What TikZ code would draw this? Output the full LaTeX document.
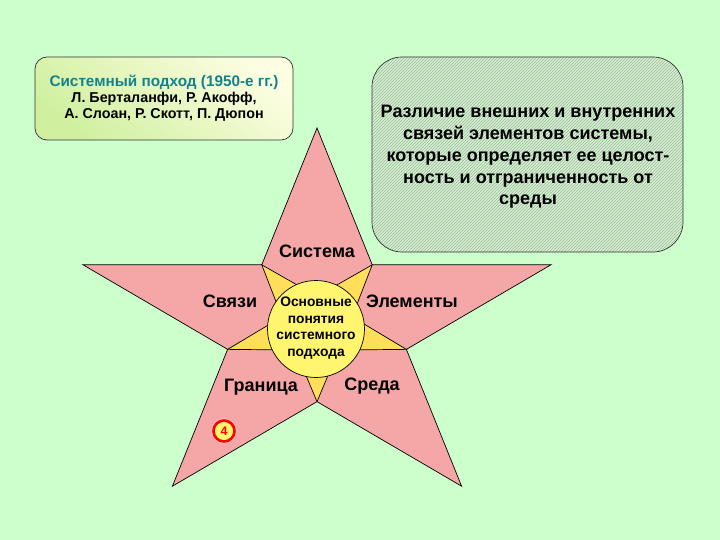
\documentclass[tikz,border=0pt]{standalone}
\usepackage{fontspec}
\setmainfont{Liberation Sans}
\usetikzlibrary{patterns}
\definecolor{bgGreen}{RGB}{204,255,204}
\definecolor{starPink}{RGB}{245,166,166}
\definecolor{rayYellow}{RGB}{255,222,90}
\definecolor{coreYellow}{RGB}{255,245,110}
\definecolor{headTeal}{RGB}{20,130,140}
\definecolor{boxCream}{RGB}{252,253,225}
\definecolor{boxLime}{RGB}{208,240,160}
\definecolor{hatchFill}{RGB}{212,242,206}
\definecolor{hatchLine}{RGB}{160,182,160}
\newcommand{\armLabelSty}{\fontsize{18}{20}\selectfont\bfseries}
\newcommand{\noteTextSty}{\fontsize{18}{21.7}\selectfont\bfseries}
\newcommand{\coreTextSty}{\fontsize{13.8}{16.6}\selectfont\bfseries}
\newcommand{\authorsSty}{\fontsize{14.3}{16}\selectfont\bfseries}

\begin{document}
\begin{tikzpicture}[x=1pt, y=-1pt,
        starline/.style={draw=black, line width=0.7pt},
        armlabel/.style={inner sep=0pt, font=\armLabelSty},
        badge/.style={circle, draw=red, line width=2.6pt, fill=coreYellow, text=red,
            inner sep=0pt, minimum size=21pt, font=\fontsize{12.5}{13}\selectfont\bfseries,
            preaction={draw=red!30, line width=5.5pt}}]

    % background
    \fill[bgGreen] (0,0) rectangle (720,540);
    \useasboundingbox (0,0) rectangle (720,540);

    % approach box
    \node[draw=black!80, line width=0.7pt, rounded corners=12pt,
        top color=boxCream, bottom color=boxLime, shading angle=-40,
        minimum width=258pt, minimum height=83pt, align=center, font=\authorsSty]
        (approach) at (164,98.5)
        {{\fontsize{15.3}{16}\selectfont\color{headTeal}Системный подход (1950-е гг.)}\\
         Л. Берталанфи, Р. Акофф,\\
         А. Слоан, Р. Скотт, П. Дюпон};

    % note box
    \node[draw=black!80, line width=0.7pt, rounded corners=30pt,
        preaction={fill=hatchFill}, pattern=north east lines, pattern color=hatchLine,
        minimum width=311pt, minimum height=195pt] (notebox) at (527.5,154.5) {};
    \node[align=center, font=\noteTextSty, inner sep=0pt] (notetext) at (528,157)
        {Различие внешних и внутренних\\
         связей элементов системы,\\
         которые определяет ее целост-\\
         ность и отграниченность от\\
         среды};

    % star
    \begin{scope}[shift={(317,326)}, x=246pt, y=198pt]
        \draw[starline, fill=starPink] (90:1)
            \foreach \a in {126,198,270,342,54} { -- (\a:0.382) -- (\a+36:1) } -- cycle;
        % rays
        \draw[starline, fill=rayYellow] (90:0.15)
            \foreach \a in {126,198,270,342,54} { -- (\a:0.382) -- (\a+36:0.15) } -- cycle;
    \end{scope}

    % core
    \node[circle, starline, fill=coreYellow, minimum size=97pt, inner sep=0pt] (core) at (316,329) {};
    \node[align=center, font=\coreTextSty, inner sep=0pt] (coretext) at (316,328)
        {Основные\\ понятия\\ системного\\ подхода};

    % arm labels
    \node[armlabel] (sistema) at (317,251) {Система};
    \node[armlabel] (svyazi) at (230,301) {Связи};
    \node[armlabel] (elementy) at (412,301) {Элементы};
    \node[armlabel] (granitsa) at (261,387) {Граница};
    \node[armlabel] (sreda) at (372,386) {Среда};

    % slide number
    \node[badge] (slidenum) at (224,431) {4};

\end{tikzpicture}
\end{document}
